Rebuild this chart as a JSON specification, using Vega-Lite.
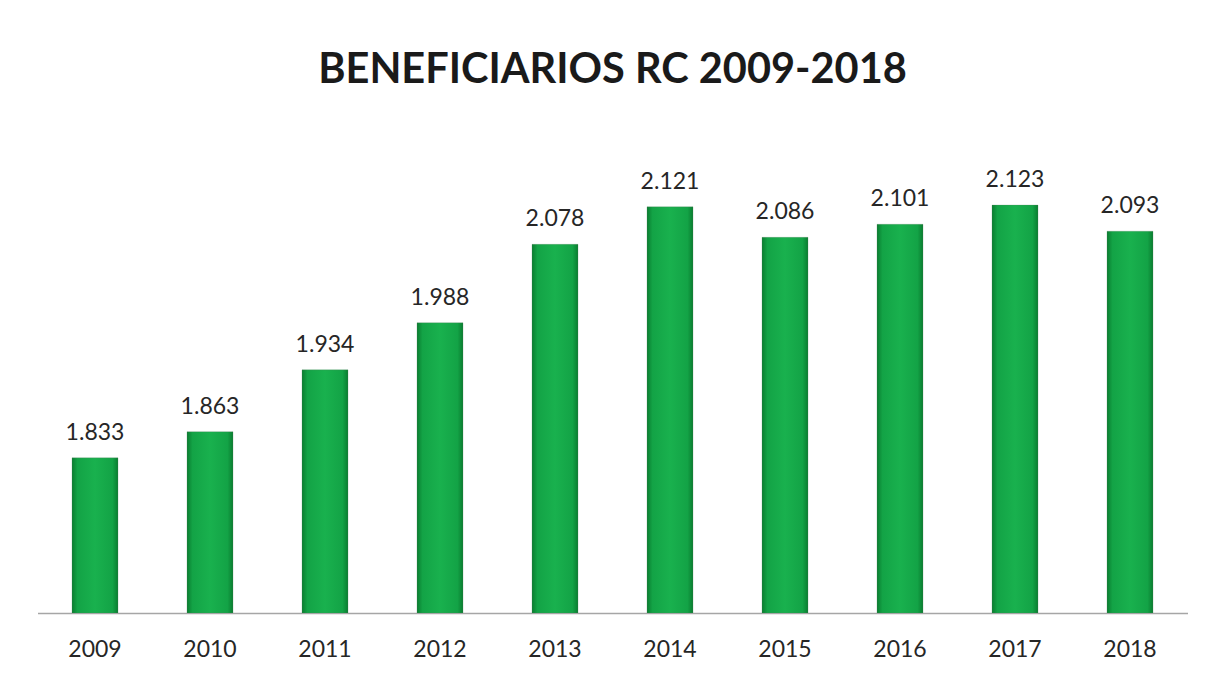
{
  "$schema": "https://vega.github.io/schema/vega-lite/v6.json",
  "autosize": {"type": "none"},
  "width": 1150,
  "height": 475,
  "padding": {"left": 37.5, "top": 138, "right": 17.5, "bottom": 62},
  "background": "white",
  "config": {
    "view": {"stroke": null},
    "locale": {"number": {"decimal": ",", "thousands": ".", "grouping": [3], "currency": ["", "€"]}}
  },
  "title": {
    "text": "BENEFICIARIOS RC 2009-2018",
    "font": "Lato",
    "fontSize": 41.5,
    "fontWeight": "bold",
    "color": "#1a1a1a",
    "anchor": "middle",
    "baseline": "alphabetic",
    "offset": 14
  },
  "data": {
    "values": [
      {"year": "2009", "value": 1833},
      {"year": "2010", "value": 1863},
      {"year": "2011", "value": 1934},
      {"year": "2012", "value": 1988},
      {"year": "2013", "value": 2078},
      {"year": "2014", "value": 2121},
      {"year": "2015", "value": 2086},
      {"year": "2016", "value": 2101},
      {"year": "2017", "value": 2123},
      {"year": "2018", "value": 2093}
    ]
  },
  "encoding": {
    "x": {
      "field": "year",
      "type": "ordinal",
      "scale": {"paddingInner": 0.6, "paddingOuter": 0.3},
      "axis": {
        "title": null,
        "labelAngle": 0,
        "ticks": false,
        "domainColor": "#a6a6a6",
        "domainWidth": 1.5,
        "labelFont": "Lato",
        "labelFontSize": 23,
        "labelColor": "#262626",
        "labelPadding": 25
      }
    },
    "y": {
      "field": "value",
      "type": "quantitative",
      "scale": {"domain": [1655, 2200], "zero": false, "clamp": true},
      "axis": null
    }
  },
  "layer": [
    {
      "mark": {
        "type": "bar",
        "clip": true,
        "stroke": "#5a7a60",
        "strokeWidth": 0.5,
        "strokeOpacity": 0.5,
        "fill": {
          "gradient": "linear",
          "x1": 0, "y1": 0, "x2": 1, "y2": 0,
          "stops": [
            {"offset": 0, "color": "#0a7d30"},
            {"offset": 0.12, "color": "#13a346"},
            {"offset": 0.5, "color": "#19b14e"},
            {"offset": 0.88, "color": "#13a346"},
            {"offset": 1, "color": "#0a7d30"}
          ]
        }
      }
    },
    {
      "mark": {
        "type": "text",
        "font": "Lato",
        "fontSize": 23,
        "color": "#262626",
        "baseline": "alphabetic",
        "dy": -18
      },
      "encoding": {
        "text": {"field": "value", "type": "quantitative", "format": ",d"}
      }
    }
  ]
}
